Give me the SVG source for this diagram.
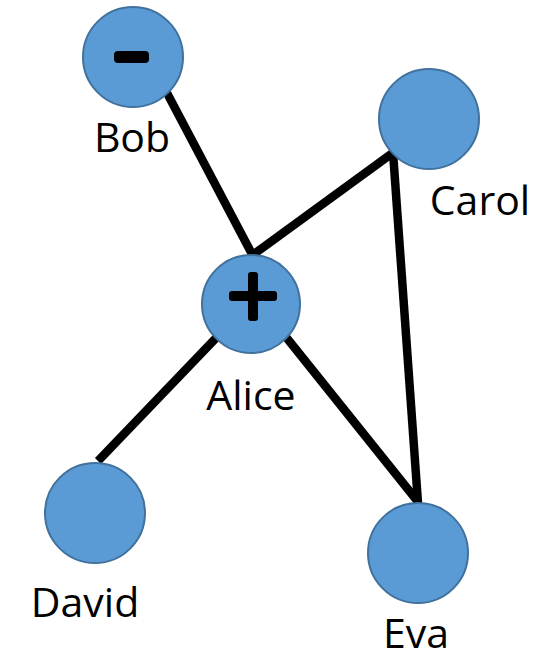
<svg xmlns="http://www.w3.org/2000/svg" width="551" height="661" viewBox="0 0 551 661">
  <style>
    .edge { stroke: #000; stroke-width: 8.5; fill: none; stroke-linecap: butt; }
    .node circle { fill: #5B9BD5; stroke: #41719C; stroke-width: 2; }
    .label { font-family: "Open Sans", "Liberation Sans", sans-serif; font-size: 41px; fill: #000; }
    .sign { fill: #000; }
  </style>
  <rect width="551" height="661" fill="#fff"/>

  <!-- connectors, drawn under the nodes -->
  <g id="edges">
    <line class="edge" x1="167" y1="93" x2="253" y2="256"/>
    <line class="edge" x1="250" y1="257" x2="394" y2="152"/>
    <line class="edge" x1="393" y1="152" x2="418" y2="503"/>
    <line class="edge" x1="286" y1="337" x2="419" y2="503"/>
    <line class="edge" x1="216" y1="338" x2="98" y2="461"/>
  </g>

  <g id="bob" class="node">
    <circle cx="133" cy="57" r="50"/>
    <rect class="sign" x="114" y="51" width="35" height="12" rx="4"/>
    <text class="label" x="132" y="152" text-anchor="middle">Bob</text>
  </g>

  <g id="alice" class="node">
    <circle cx="251" cy="304" r="49"/>
    <rect class="sign" x="229" y="291" width="48" height="10" rx="3"/>
    <rect class="sign" x="248" y="272" width="10" height="49" rx="3"/>
    <text class="label" x="251" y="410" text-anchor="middle">Alice</text>
  </g>

  <g id="carol" class="node">
    <circle cx="429" cy="119" r="50"/>
    <text class="label" x="480" y="215" text-anchor="middle">Carol</text>
  </g>

  <g id="david" class="node">
    <circle cx="95" cy="513" r="50"/>
    <text class="label" x="85" y="617" text-anchor="middle">David</text>
  </g>

  <g id="eva" class="node">
    <circle cx="418" cy="553" r="50"/>
    <text class="label" x="416" y="648" text-anchor="middle">Eva</text>
  </g>
</svg>
